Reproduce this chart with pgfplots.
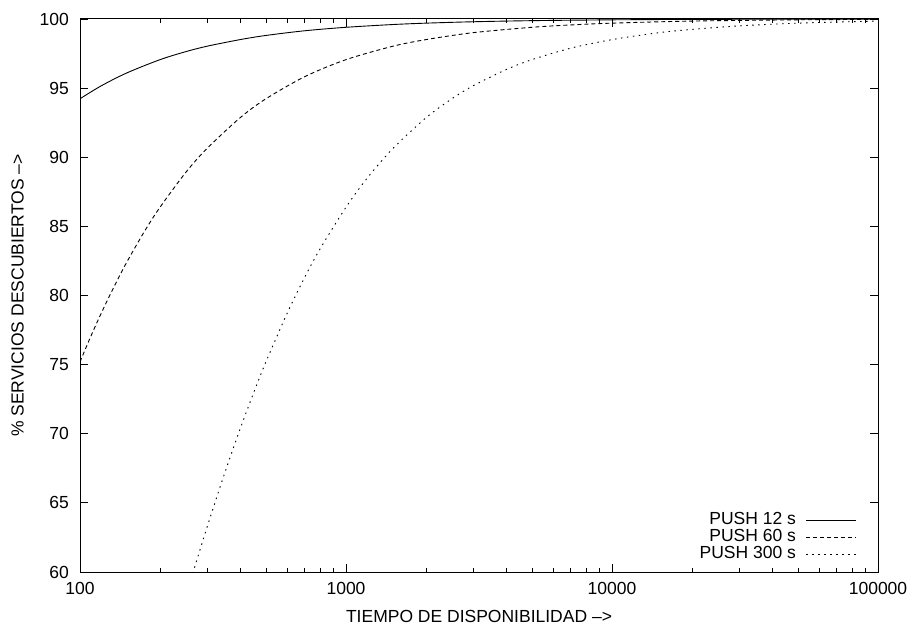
\documentclass[border=0pt]{standalone}
\usepackage{fontspec}
\setmainfont{Liberation Sans}
\usepackage{pgfplots}
\pgfplotsset{compat=1.18}
\begin{document}
\begin{tikzpicture}[font=\fontsize{17.5}{21}\selectfont]
\begin{axis}[
  xmode=log, scale only axis, width=798pt, height=553pt,
  xmin=100, xmax=100000, ymin=60, ymax=100,
  xtick={100,1000,10000,100000}, xticklabels={100,1000,10000,100000},
  ytick={60,65,70,75,80,85,90,95,100}, yticklabels={60,65,70,75,80,85,90,95,100},
  tick align=inside, major tick length=8pt, minor tick length=4pt,
  axis line style={line width=1pt},
  every tick/.style={black, line width=0.8pt},
  xticklabel style={inner sep=0pt, yshift=-10pt},
  yticklabel style={inner sep=0pt, xshift=-11pt},
  xlabel={TIEMPO DE DISPONIBILIDAD \textendash>},
  ylabel={\% SERVICIOS DESCUBIERTOS \textendash>},
  every axis x label/.style={at={(axis description cs:0.5,0)}, yshift=-44pt, anchor=center},
  every axis y label/.style={at={(axis description cs:0,0.5)}, xshift=-62.5pt, anchor=center, rotate=90},
  legend cell align=right, legend plot pos=right,
  legend image code/.code={\draw[#1] (0pt,0pt) -- (50pt,0pt);},
  legend style={draw=none, fill=none, inner sep=0pt, at={(axis description cs:1,0)}, anchor=south east,
    xshift=-21pt, yshift=9pt, row sep=0pt, column sep=10pt,
    nodes={inner xsep=0pt, inner ysep=1pt, text height=12pt, text depth=3pt}},
]
\coordinate (bl) at (rel axis cs:0,0);
\coordinate (tr) at (rel axis cs:1,1);
\addplot[black, line width=0.9pt, smooth] coordinates {
(100,94.23) (120,95.16) (150,96.10) (200,97.06) (250,97.64) (300,98.03) (400,98.51) (500,98.81) (700,99.15) (1000,99.40) (1500,99.60) (2000,99.70) (3000,99.80) (5000,99.88) (10000,99.94) (20000,99.97) (50000,99.988) (100000,99.994)
};
\addlegendentry{PUSH 12 s}
\addplot[black, line width=0.9pt, smooth, dash pattern=on 4pt off 3pt] coordinates {
(100,75.20) (110,77.08) (120,78.69) (135,80.73) (150,82.42) (175,84.66) (200,86.39) (250,88.91) (300,90.63) (400,92.86) (500,94.23) (700,95.83) (1000,97.06) (1500,98.03) (2000,98.51) (3000,99.01) (5000,99.40) (7000,99.57) (10000,99.70) (20000,99.85) (50000,99.94) (100000,99.97)
};
\addlegendentry{PUSH 60 s}
\addplot[black, line width=0.9pt, smooth, dash pattern=on 1.5pt off 4.5pt] coordinates {
(250,58.23) (270,60.37) (300,63.21) (330,65.68) (360,67.85) (400,70.35) (450,72.99) (500,75.20) (600,78.69) (700,81.33) (800,83.39) (1000,86.39) (1200,88.48) (1500,90.63) (2000,92.86) (2500,94.23) (3000,95.16) (4000,96.34) (5000,97.06) (7000,97.89) (10000,98.51) (15000,99.01) (20000,99.25) (30000,99.50) (50000,99.70) (100000,99.85)
};
\addlegendentry{PUSH 300 s}
\end{axis}
\pgfresetboundingbox
\path ([xshift=-80pt,yshift=-52pt]bl) rectangle ([xshift=32pt,yshift=19pt]tr);
\end{tikzpicture}
\end{document}
